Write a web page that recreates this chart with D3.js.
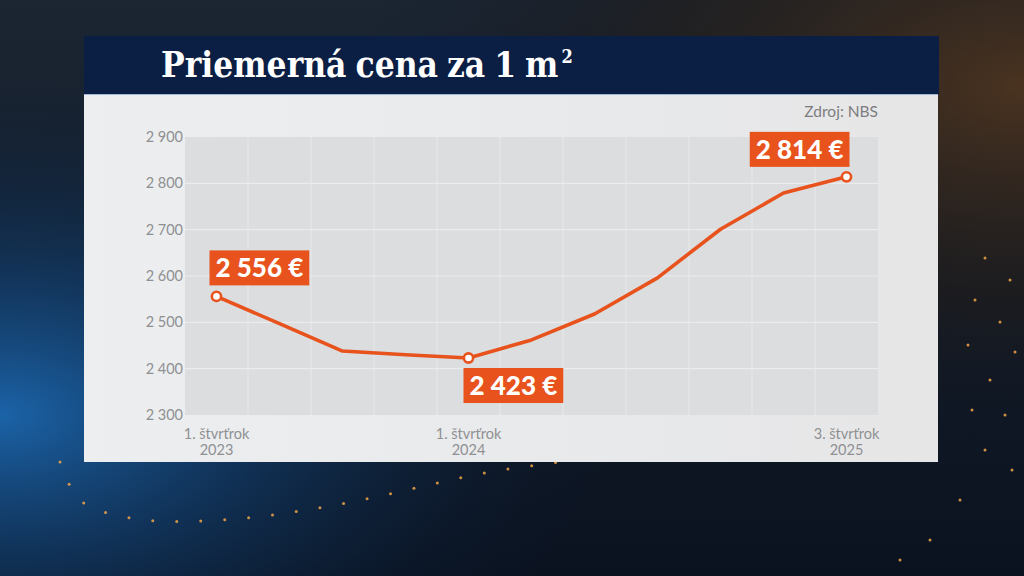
<!DOCTYPE html>
<html>
<head>
<meta charset="utf-8">
<script src="https://cdn.jsdelivr.net/npm/d3@7"></script>
<style>
  html, body { margin: 0; padding: 0; background: #07101e; }
  svg { display: block; }
</style>
</head>
<body>
<div id="chart"></div>
<script>
// Data
const quarters = ['1. štvrťrok 2023', '2. štvrťrok 2023', '3. štvrťrok 2023', '4. štvrťrok 2023',
  '1. štvrťrok 2024', '2. štvrťrok 2024', '3. štvrťrok 2024', '4. štvrťrok 2024',
  '1. štvrťrok 2025', '2. štvrťrok 2025', '3. štvrťrok 2025'];
const prices = [2556, 2497, 2438, 2430, 2423, 2462, 2518, 2596, 2701, 2779, 2814];
const yTicks = [2300, 2400, 2500, 2600, 2700, 2800, 2900];
const xTickQuarters = ['1. štvrťrok 2023', '1. štvrťrok 2024', '3. štvrťrok 2025'];
const labelled = ['1. štvrťrok 2023', '1. štvrťrok 2024', '3. štvrťrok 2025'];

const title = 'Priemerná cena za 1 m';
const source = 'Zdroj: NBS';

const width = 1024;
const height = 576;

const fmt = d3.formatLocale({ decimal: ',', thousands: ' ', grouping: [3], currency: ['', ' €'] }).format(',');

const svg = d3.select('#chart').append('svg')
  .attr('width', width)
  .attr('height', height);

const defs = svg.append('defs');

// background glows
const blue = defs.append('radialGradient').attr('id', 'blueGlow')
  .attr('cx', 0).attr('cy', 0.72).attr('r', 0.6);
blue.append('stop').attr('offset', '0%').attr('stop-color', '#1b63a8');
blue.append('stop').attr('offset', '40%').attr('stop-color', '#123d6b').attr('stop-opacity', 0.75);
blue.append('stop').attr('offset', '100%').attr('stop-color', '#0b1a2e').attr('stop-opacity', 0);

const warm = defs.append('radialGradient').attr('id', 'warmGlow')
  .attr('cx', 1).attr('cy', 0.15).attr('r', 0.65);
warm.append('stop').attr('offset', '0%').attr('stop-color', '#4a3320');
warm.append('stop').attr('offset', '55%').attr('stop-color', '#221c18').attr('stop-opacity', 0.6);
warm.append('stop').attr('offset', '100%').attr('stop-color', '#0b1220').attr('stop-opacity', 0);

const topGlow = defs.append('linearGradient').attr('id', 'topGlow')
  .attr('x1', 0).attr('x2', 0).attr('y1', 0).attr('y2', 1);
topGlow.append('stop').attr('offset', '0%').attr('stop-color', '#1c2633');
topGlow.append('stop').attr('offset', '100%').attr('stop-color', '#0a1220');

const panelGrad = defs.append('linearGradient').attr('id', 'panelGrad')
  .attr('x1', 0).attr('x2', 1).attr('y1', 0).attr('y2', 0);
panelGrad.append('stop').attr('offset', '0%').attr('stop-color', '#eceef0');
panelGrad.append('stop').attr('offset', '100%').attr('stop-color', '#e6e6e7');

svg.append('rect').attr('width', width).attr('height', height).attr('fill', 'url(#topGlow)');
svg.append('rect').attr('width', width).attr('height', height).attr('fill', 'url(#warmGlow)');
svg.append('rect').attr('width', width).attr('height', height).attr('fill', 'url(#blueGlow)');

// decorative dotted curve (lower left) and scattered dots (right)
const dotGuide = [[60, 462], [80, 500], [130, 518], [220, 520], [330, 506], [490, 472], [560, 462]];
const guidePath = svg.append('path')
  .attr('d', d3.line().curve(d3.curveCatmullRom)(dotGuide))
  .attr('fill', 'none');
const guideLen = guidePath.node().getTotalLength();
const curveDots = d3.range(0, guideLen, 24).map(l => guidePath.node().getPointAtLength(l));
svg.append('g').selectAll('circle')
  .data(curveDots)
  .join('circle')
    .attr('cx', d => d.x)
    .attr('cy', d => d.y)
    .attr('r', 1.5)
    .attr('fill', '#f2a448')
    .attr('opacity', 0.85);

const sideDots = [[985, 258], [1010, 280], [975, 300], [1000, 322], [968, 345], [1015, 352], [990, 380], [972, 410], [1005, 415], [985, 450], [1012, 470], [960, 500], [930, 540], [900, 560]];
svg.append('g').selectAll('circle')
  .data(sideDots)
  .join('circle')
    .attr('cx', d => d[0])
    .attr('cy', d => d[1])
    .attr('r', 1.5)
    .attr('fill', '#f2a448')
    .attr('opacity', 0.85);

// panel
const panel = { x: 84, y: 94, w: 854, h: 368 };
svg.append('rect')
  .attr('x', panel.x).attr('y', panel.y)
  .attr('width', panel.w).attr('height', panel.h)
  .attr('fill', 'url(#panelGrad)');

// title bar
svg.append('rect')
  .attr('x', 84).attr('y', 36)
  .attr('width', 855).attr('height', 58)
  .attr('fill', '#0b1e44');
svg.append('line')
  .attr('x1', 84).attr('x2', 938)
  .attr('y1', 94.5).attr('y2', 94.5)
  .attr('stroke', '#9fb6d6').attr('stroke-width', 1);

const titleMain = svg.append('text')
  .attr('x', 161).attr('y', 77)
  .attr('fill', '#ffffff')
  .style('font-family', '"DejaVu Serif Condensed", "DejaVu Serif", serif')
  .style('font-weight', 700)
  .style('font-size', '35px')
  .style('word-spacing', '-2px')
  .text(title);
const titleEnd = 161 + titleMain.node().getComputedTextLength();
svg.append('text')
  .attr('x', titleEnd + 3).attr('y', 63)
  .attr('fill', '#ffffff')
  .style('font-family', '"DejaVu Serif Condensed", "DejaVu Serif", serif')
  .style('font-weight', 700)
  .style('font-size', '18px')
  .text('2');

// source
svg.append('text')
  .attr('x', 878).attr('y', 117)
  .attr('text-anchor', 'end')
  .attr('fill', '#7d7d7f')
  .style('font-family', 'Lato, sans-serif')
  .style('font-size', '15.5px')
  .text(source);

// scales
const x = d3.scaleBand()
  .domain(quarters)
  .range([185, 878]);

const y = d3.scaleLinear()
  .domain([2300, 2900])
  .range([415, 137]);

// plot background
svg.append('rect')
  .attr('x', x.range()[0]).attr('y', y(2900))
  .attr('width', x.range()[1] - x.range()[0])
  .attr('height', y(2300) - y(2900))
  .attr('fill', '#dcdddf');

// gridlines
const grid = svg.append('g').attr('class', 'grid');
grid.selectAll('line.h')
  .data(yTicks.slice(1, -1))
  .join('line')
    .attr('class', 'h')
    .attr('x1', x.range()[0]).attr('x2', x.range()[1])
    .attr('y1', d => y(d)).attr('y2', d => y(d))
    .attr('stroke', '#ececed').attr('stroke-width', 1.1);
grid.selectAll('line.v')
  .data(quarters.slice(1))
  .join('line')
    .attr('class', 'v')
    .attr('x1', d => x(d)).attr('x2', d => x(d))
    .attr('y1', y(2900)).attr('y2', y(2300))
    .attr('stroke', '#e8e9ea').attr('stroke-width', 1);

// y axis
const yAxis = svg.append('g')
  .attr('transform', `translate(${x.range()[0] - 2},0)`)
  .call(d3.axisLeft(y).tickValues(yTicks).tickSize(0).tickPadding(0).tickFormat(d => fmt(d)));
yAxis.select('.domain').remove();
yAxis.selectAll('text')
  .attr('fill', '#8f9092')
  .style('font-family', 'Lato, sans-serif')
  .style('font-size', '14.5px');

// x axis
const xAxis = svg.append('g')
  .attr('transform', `translate(0,${y(2300)})`)
  .call(d3.axisBottom(x).tickValues(xTickQuarters).tickSize(0).tickPadding(0).tickFormat(''));
xAxis.select('.domain').remove();
xAxis.selectAll('.tick').each(function(d) {
  const parts = d.split(' ');
  const t = d3.select(this).append('text')
    .attr('fill', '#8f9092')
    .attr('text-anchor', 'middle')
    .style('font-family', 'Lato, sans-serif')
    .style('font-size', '14.5px');
  t.append('tspan').attr('x', 0).attr('y', 24).text(parts[0] + ' ' + parts[1]);
  t.append('tspan').attr('x', 0).attr('y', 40).text(parts[2]);
});

// line
const cx = q => x(q) + x.bandwidth() / 2;
const line = d3.line()
  .x((d, i) => cx(quarters[i]))
  .y(d => y(d));

svg.append('path')
  .datum(prices)
  .attr('d', line)
  .attr('fill', 'none')
  .attr('stroke', '#e8521c')
  .attr('stroke-width', 3.6)
  .attr('stroke-linejoin', 'round');

const points = quarters.map((q, i) => ({ q, v: prices[i] })).filter(d => labelled.includes(d.q));

svg.append('g').selectAll('circle')
  .data(points)
  .join('circle')
    .attr('cx', d => cx(d.q))
    .attr('cy', d => y(d.v))
    .attr('r', 4.6)
    .attr('fill', '#ffffff')
    .attr('stroke', '#e8521c')
    .attr('stroke-width', 2.6);

// value labels
const labelPos = {
  '1. štvrťrok 2023': { dx: -7, dy: -11, anchor: 'left', place: 'above' },
  '1. štvrťrok 2024': { dx: -5, dy: 10, anchor: 'left', place: 'below' },
  '3. štvrťrok 2025': { dx: 3, dy: -10, anchor: 'right', place: 'above' }
};
const boxH = 35;
const padX = 6;

const labels = svg.append('g').selectAll('g')
  .data(points)
  .join('g');

labels.each(function(d) {
  const g = d3.select(this);
  const p = labelPos[d.q];
  const rect = g.append('rect').attr('fill', '#e8521c');
  const txt = g.append('text')
    .attr('fill', '#ffffff')
    .style('font-family', 'Lato, sans-serif')
    .style('font-weight', 900)
    .style('font-size', '26px')
    .text(fmt(d.v) + ' €');
  const w = txt.node().getComputedTextLength() + padX * 2;
  const px = cx(d.q), py = y(d.v);
  const left = p.anchor === 'left' ? px + p.dx : px + p.dx - w;
  const top = p.place === 'above' ? py + p.dy - boxH : py + p.dy;
  rect.attr('x', left).attr('y', top).attr('width', w).attr('height', boxH);
  txt.attr('x', left + padX).attr('y', top + 27);
});
</script>
</body>
</html>
